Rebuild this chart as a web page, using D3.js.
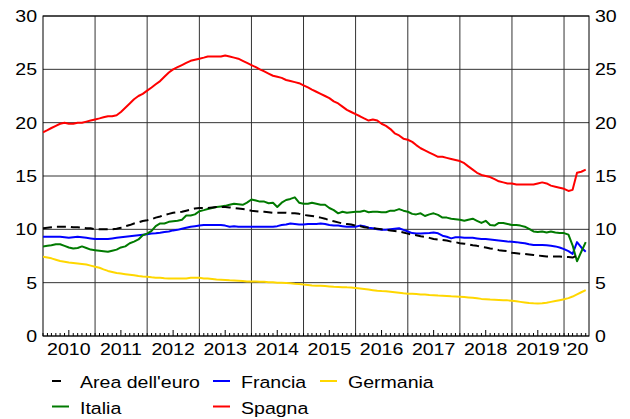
<!DOCTYPE html>
<html>
<head>
<meta charset="utf-8">
<script src="https://cdn.jsdelivr.net/npm/d3@7/dist/d3.min.js"></script>
<style>
html,body{margin:0;padding:0;background:#fff;}
svg{display:block;}
text{font-family:"Liberation Sans",Arial,sans-serif;font-size:17px;fill:#000;}
</style>
</head>
<body>
<svg id="chart" width="630" height="419"></svg>
<script>
// ---- data (monthly, from Jan 2010) ----
const startYear = 2010;
const yearLabels = ["2010","2011","2012","2013","2014","2015","2016","2017","2018","2019","'20"];
const yTicks = [0,5,10,15,20,25,30];
const seriesNames = ["Area dell'euro","Francia","Germania","Italia","Spagna"];

const euroArea = [
10.1,10.15,10.2,10.25,10.25,10.25,10.25,10.2,10.2,10.15,10.1,10.1,
10.0,10.0,10.0,10.0,10.0,10.05,10.15,10.3,10.4,10.55,10.65,10.78,
10.85,10.95,11.1,11.2,11.35,11.45,11.55,11.6,11.65,11.75,11.85,11.95,
12.0,12.0,12.0,12.05,12.1,12.1,12.1,12.05,12.0,11.95,11.9,11.85,
11.75,11.7,11.65,11.65,11.6,11.55,11.55,11.55,11.55,11.5,11.5,11.45,
11.35,11.3,11.25,11.2,11.1,11.0,10.85,10.75,10.65,10.55,10.5,10.45,
10.35,10.3,10.2,10.15,10.1,10.05,10.0,9.95,9.9,9.85,9.8,9.7,
9.6,9.5,9.45,9.35,9.3,9.2,9.1,9.05,9.0,8.95,8.85,8.8,
8.7,8.65,8.6,8.5,8.45,8.35,8.3,8.2,8.15,8.05,8.0,7.95,
7.8,7.75,7.7,7.7,7.65,7.6,7.55,7.5,7.45,7.45,7.45,7.45,
7.43,7.4,7.35,7.55];

const francia = [
9.3,9.3,9.3,9.3,9.3,9.25,9.2,9.25,9.3,9.25,9.2,9.15,
9.1,9.1,9.1,9.1,9.15,9.2,9.25,9.3,9.35,9.4,9.45,9.5,
9.55,9.6,9.63,9.68,9.75,9.8,9.9,9.95,10.05,10.15,10.25,10.3,
10.35,10.4,10.4,10.4,10.4,10.4,10.35,10.25,10.3,10.25,10.25,10.25,
10.25,10.25,10.25,10.25,10.25,10.25,10.3,10.4,10.45,10.55,10.5,10.45,
10.45,10.5,10.5,10.5,10.55,10.5,10.4,10.35,10.35,10.3,10.25,10.25,
10.25,10.35,10.3,10.15,10.1,10.0,9.95,9.95,10.0,10.05,10.1,9.95,
9.8,9.65,9.6,9.6,9.63,9.65,9.7,9.63,9.4,9.3,9.15,9.25,
9.25,9.22,9.2,9.2,9.15,9.1,9.1,9.05,9.0,8.95,8.9,8.85,
8.84,8.8,8.75,8.7,8.6,8.53,8.53,8.53,8.5,8.45,8.4,8.3,
8.15,7.95,7.7,8.8,8.3,7.9];

const germania = [
7.43,7.35,7.28,7.15,7.03,6.97,6.9,6.85,6.8,6.75,6.7,6.6,
6.5,6.4,6.25,6.1,6.0,5.9,5.85,5.8,5.75,5.7,5.62,5.58,
5.55,5.5,5.47,5.45,5.42,5.4,5.4,5.38,5.38,5.4,5.45,5.45,
5.45,5.4,5.38,5.35,5.3,5.28,5.25,5.22,5.2,5.18,5.15,5.12,
5.1,5.1,5.08,5.08,5.05,5.03,5.0,5.0,4.98,4.95,4.9,4.87,
4.82,4.78,4.74,4.72,4.7,4.68,4.65,4.62,4.6,4.58,4.56,4.55,
4.5,4.45,4.4,4.35,4.3,4.25,4.22,4.2,4.15,4.1,4.05,4.0,
3.97,3.95,3.93,3.9,3.88,3.85,3.83,3.8,3.78,3.76,3.72,3.7,
3.68,3.65,3.62,3.58,3.53,3.48,3.45,3.42,3.4,3.38,3.36,3.34,
3.3,3.25,3.2,3.15,3.1,3.07,3.05,3.07,3.12,3.2,3.28,3.36,
3.45,3.55,3.7,3.9,4.1,4.3];

const italia = [
8.4,8.45,8.5,8.6,8.6,8.45,8.3,8.2,8.25,8.4,8.25,8.1,
8.05,8.0,7.95,7.9,8.0,8.1,8.3,8.4,8.7,8.85,9.05,9.45,
9.6,9.85,10.3,10.55,10.55,10.7,10.75,10.8,10.9,11.3,11.3,11.4,
11.7,11.8,11.9,12.0,12.1,12.15,12.2,12.3,12.4,12.35,12.3,12.5,
12.8,12.7,12.6,12.6,12.45,12.5,12.1,12.5,12.75,12.85,13.0,12.5,
12.4,12.4,12.5,12.4,12.3,12.3,12.0,11.8,11.5,11.65,11.55,11.6,
11.65,11.65,11.75,11.6,11.65,11.65,11.6,11.6,11.75,11.75,11.9,11.75,
11.65,11.45,11.4,11.5,11.25,11.4,11.5,11.35,11.1,11.1,11.0,10.95,
10.9,10.8,10.9,11.0,10.8,10.6,10.8,10.4,10.35,10.6,10.6,10.5,
10.4,10.4,10.35,10.25,10.05,9.8,9.75,9.8,9.7,9.8,9.7,9.65,
9.65,9.5,8.5,7.0,7.9,8.8];

const spagna = [
19.1,19.3,19.5,19.7,19.9,20.0,19.9,19.9,20.0,20.0,20.1,20.2,
20.3,20.4,20.5,20.6,20.6,20.7,21.0,21.4,21.8,22.2,22.5,22.7,
23.0,23.3,23.6,23.9,24.3,24.7,25.0,25.2,25.4,25.6,25.8,25.9,
26.0,26.1,26.2,26.2,26.2,26.2,26.3,26.2,26.1,26.0,25.8,25.6,
25.4,25.2,25.0,24.8,24.6,24.4,24.3,24.2,24.0,23.9,23.8,23.7,
23.5,23.3,23.1,22.9,22.7,22.5,22.3,22.0,21.8,21.5,21.2,21.0,
20.8,20.6,20.4,20.2,20.3,20.2,19.9,19.7,19.4,19.0,18.8,18.5,
18.4,18.2,17.9,17.6,17.4,17.2,17.0,16.8,16.8,16.7,16.6,16.5,
16.4,16.2,15.9,15.6,15.3,15.1,15.0,14.9,14.7,14.5,14.4,14.3,
14.3,14.2,14.2,14.2,14.2,14.2,14.3,14.4,14.3,14.1,14.0,13.9,
13.8,13.6,13.7,15.3,15.4,15.6];

// ---- layout ----
const L = 43, R = 589, T = 16, B = 336;
const SX = 1.15; // horizontal text stretch
const svg = d3.select("#chart");

const monthDate = i => new Date(startYear, i, 1);
const x = d3.scaleTime().domain([new Date(2010,0,1), new Date(2020,5,24)]).range([L, R]);
const y = d3.scaleLinear().domain([0, 30]).range([B, T]);

function txt(g, s, px, py, anchor) {
  return g.append("text")
    .attr("transform", `translate(${px},${py}) scale(${SX},1)`)
    .attr("text-anchor", anchor || "start")
    .text(s);
}

// gridlines
const grid = svg.append("g");
yTicks.forEach(v => {
  grid.append("line").attr("x1", L).attr("x2", R).attr("y1", y(v)).attr("y2", y(v))
    .attr("stroke", "#333").attr("stroke-width", 1);
});
const yearStarts = d3.range(2011, 2021).map(yy => new Date(yy, 0, 1));
yearStarts.forEach(d => {
  grid.append("line").attr("x1", x(d)).attr("x2", x(d)).attr("y1", T).attr("y2", B)
    .attr("stroke", "#333").attr("stroke-width", 1);
});

// monthly ticks
const nMonths = 126;
d3.range(0, nMonths).forEach(i => {
  const d = monthDate(i);
  const len = (i % 12 === 6) ? 6 : 3;
  grid.append("line").attr("x1", x(d)).attr("x2", x(d)).attr("y1", B).attr("y2", B - len)
    .attr("stroke", "#000").attr("stroke-width", 1);
});

// border
svg.append("rect").attr("x", L).attr("y", T).attr("width", R - L).attr("height", B - T)
  .attr("fill", "none").attr("stroke", "#000").attr("stroke-width", 1);

// clip
svg.append("clipPath").attr("id", "clip").append("rect")
  .attr("x", L).attr("y", T).attr("width", R - L).attr("height", B - T);

const line = d3.line().x((v, i) => x(monthDate(i))).y(v => y(v)).curve(d3.curveLinear);
const plot = svg.append("g").attr("clip-path", "url(#clip)");

const series = [
  {name: seriesNames[1], data: francia, color: "#0000ff", dash: null},
  {name: seriesNames[2], data: germania, color: "#ffd700", dash: null},
  {name: seriesNames[3], data: italia, color: "#007a00", dash: null},
  {name: seriesNames[0], data: euroArea, color: "#000000", dash: "9,5"},
  {name: seriesNames[4], data: spagna, color: "#ff0000", dash: null}
];
series.forEach(s => {
  plot.append("path").datum(s.data).attr("d", line)
    .attr("fill", "none").attr("stroke", s.color).attr("stroke-width", 2)
    .attr("stroke-linejoin", "round")
    .attr("stroke-dasharray", s.dash);
});

// y labels
yTicks.forEach(v => {
  txt(svg, String(v), 37, y(v) + 6, "end");
  txt(svg, String(v), 595, y(v) + 6, "start");
});

// x labels
yearLabels.forEach((lab, k) => {
  let cx;
  if (k < 10) cx = x(new Date(startYear + k, 6, 1));
  else cx = (x(new Date(2020, 0, 1)) + R) / 2 - 1;
  txt(svg, lab, cx, 355, "middle");
});

// legend
const legend = [
  {name: seriesNames[0], color: "#000000", dash: true, lx: 52, ly: 381},
  {name: seriesNames[1], color: "#0000ff", lx: 213, ly: 381},
  {name: seriesNames[2], color: "#ffd700", lx: 320, ly: 381},
  {name: seriesNames[3], color: "#007a00", lx: 52, ly: 406.5},
  {name: seriesNames[4], color: "#ff0000", lx: 213, ly: 406.5}
];
legend.forEach(l => {
  svg.append("line").attr("x1", l.lx).attr("x2", l.dash ? l.lx + 9 : l.lx + 17)
    .attr("y1", l.ly).attr("y2", l.ly).attr("stroke", l.color).attr("stroke-width", 2);
  txt(svg, l.name, l.lx + 28, l.ly + 7, "start");
});
</script>
</body>
</html>
